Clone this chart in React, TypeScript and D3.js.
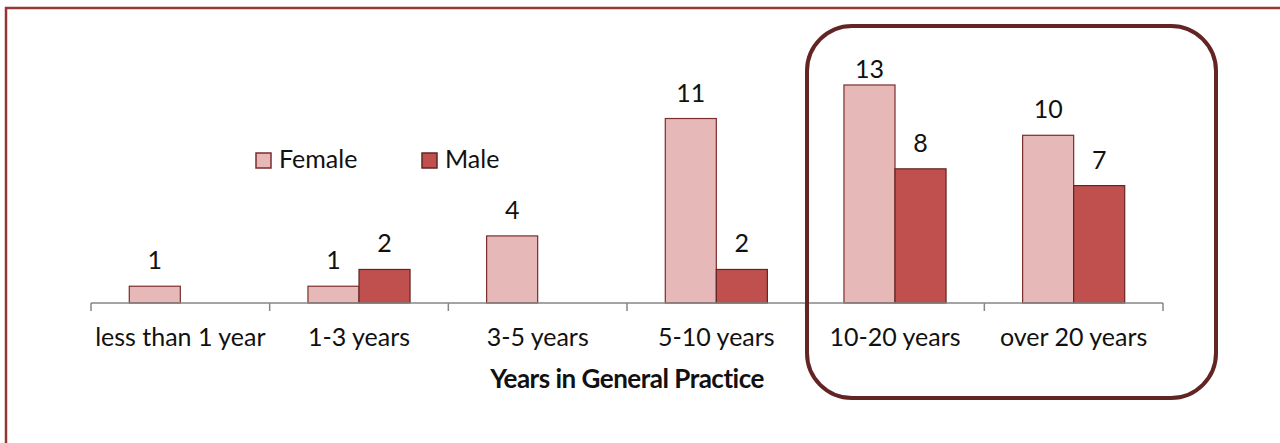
import React from "react";
import * as d3 from "d3";

const categories = ["less than 1 year", "1-3 years", "3-5 years", "5-10 years", "10-20 years", "over 20 years"];
const seriesNames = ["Female", "Male"];
const femaleValues = [1, 1, 4, 11, 13, 10];
const maleValues = [0, 2, 0, 2, 8, 7];

const fills = ["#E6B9B8", "#C0504D"];
const strokes = ["#7a2e2d", "#632523"];
const FONT = "Lato, 'Open Sans', sans-serif";

export default function App() {
  const W = 1280, H = 443;
  const plotLeft = 91, plotRight = 1163, baseY = 303;
  const x = d3.scaleBand<string>().domain(categories).range([plotLeft, plotRight]).padding(0);
  const xs = d3.scaleBand<string>().domain(seriesNames).range([0, x.bandwidth()]).paddingInner(0).paddingOuter(0.75);
  const y = d3.scaleLinear().domain([0, 14]).range([baseY, 68.2]);
  const values = [femaleValues, maleValues];
  const ticks = [...categories.map((c) => x(c) as number), plotRight];

  return (
    <svg width={W} height={H} style={{ position: "absolute", left: 0, top: 0, background: "#fff" }}>
      <rect x={6} y={8} width={1400} height={600} fill="none" stroke="#953735" strokeWidth={2.5} />
      {seriesNames.map((s, si) =>
        categories.map((c, ci) => {
          const v = values[si][ci];
          if (!v) return null;
          const bx = (x(c) as number) + (xs(s) as number);
          const by = y(v);
          return (
            <g key={s + c}>
              <rect x={bx} y={by} width={xs.bandwidth()} height={baseY - by} fill={fills[si]} stroke={strokes[si]} strokeWidth={1.2} />
              <text x={bx + xs.bandwidth() / 2} y={Math.max(by - 17, 78)} textAnchor="middle" fontFamily={FONT} fontSize={25} fill="#111">
                {v}
              </text>
            </g>
          );
        })
      )}
      <line x1={plotLeft} x2={plotRight} y1={baseY} y2={baseY} stroke="#868686" strokeWidth={1.5} />
      {ticks.map((t, i) => (
        <line key={i} x1={t} x2={t} y1={baseY} y2={baseY + 8} stroke="#868686" strokeWidth={1.5} />
      ))}
      {categories.map((c) => (
        <text key={c} x={(x(c) as number) + x.bandwidth() / 2} y={346} textAnchor="middle" fontFamily={FONT} fontSize={25} fill="#111">
          {c}
        </text>
      ))}
      <text x={(plotLeft + plotRight) / 2} y={388} textAnchor="middle" fontFamily={FONT} fontSize={26} fontWeight="bold" fill="#111" letterSpacing={-0.5}>
        Years in General Practice
      </text>
      {seriesNames.map((s, si) => {
        const lx = [256, 422][si];
        return (
          <g key={s}>
            <rect x={lx} y={153} width={15} height={15} fill={fills[si]} stroke={strokes[si]} strokeWidth={1.5} />
            <text x={lx + 23} y={168} fontFamily={FONT} fontSize={25} fill="#111">
              {s}
            </text>
          </g>
        );
      })}
      <rect x={807} y={26} width={409} height={372} rx={45} ry={45} fill="none" stroke="#632523" strokeWidth={4} />
    </svg>
  );
}
